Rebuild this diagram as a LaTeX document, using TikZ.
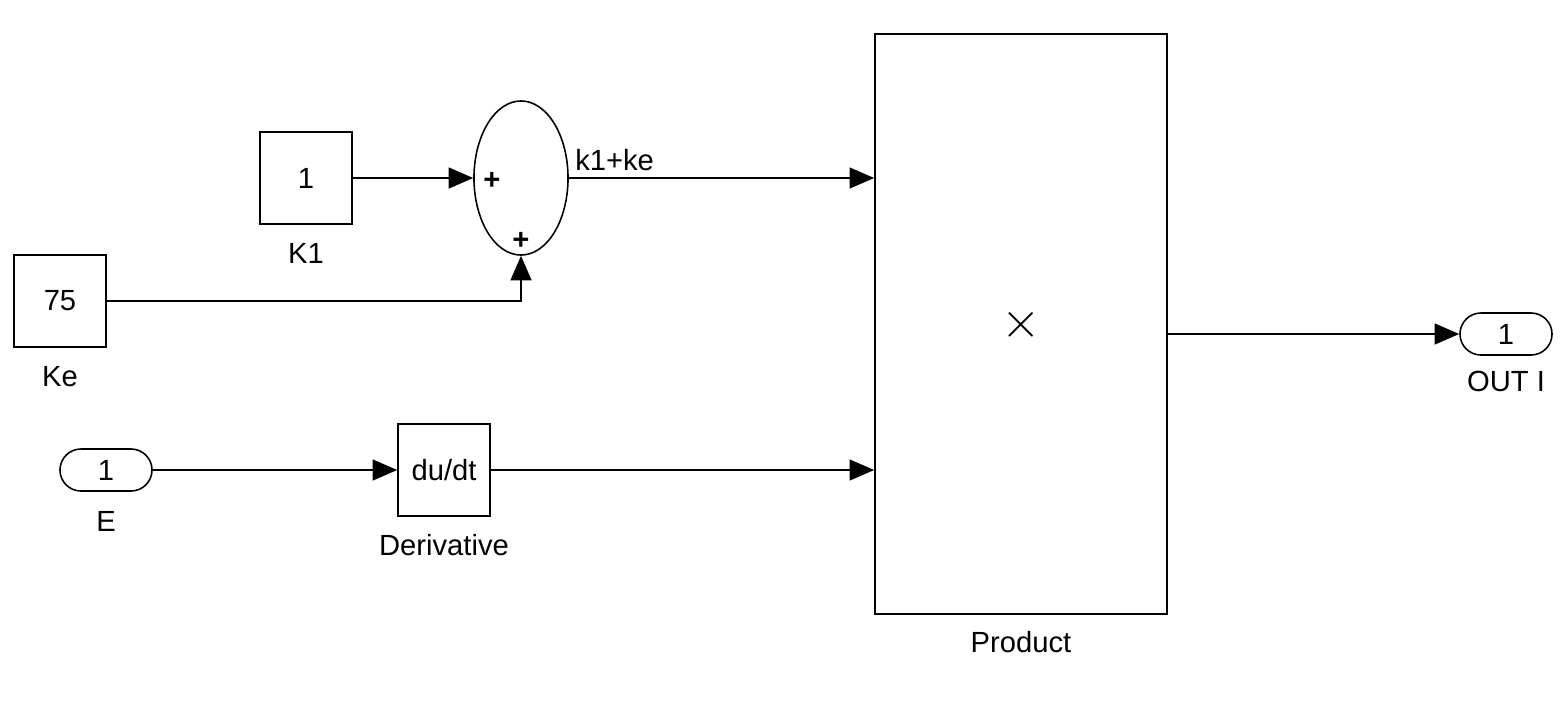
\documentclass[tikz,border=0pt]{standalone}
\usepackage{fontspec}
\setmainfont{Liberation Sans}
\usetikzlibrary{arrows.meta,shapes.geometric,shapes.misc}

\begin{document}
\begin{tikzpicture}[x=0.01cm,y=-0.01cm,
    >={Triangle[length=7pt,width=6pt]},
    every node/.style={font=\fontsize{8.3}{10}\selectfont},
    block/.style={rectangle,draw,line width=0.45pt,minimum size=0.92cm,inner sep=0pt},
    port/.style={rounded rectangle,draw,line width=0.45pt,minimum width=0.92cm,minimum height=0.42cm,inner sep=0pt},
    caption/.style={inner sep=0pt},
    signal/.style={->,line width=0.35pt}]
  \useasboundingbox (0,0) rectangle (1566,702);

  \node[block] (K1) at (306,178) {1};
  \node[caption] at (306,253) {K1};
  \node[block] (Ke) at (60,301) {75};
  \node[caption] at (60,377) {Ke};
  \node[ellipse,draw,line width=0.45pt,minimum width=0.94cm,minimum height=1.54cm,inner sep=0pt] (sum) at (521,178) {};
  \node[caption] at (492,181) {\textbf{+}};
  \node[caption] at (521,241) {\textbf{+}};
  \node[rectangle,draw,line width=0.45pt,minimum width=2.92cm,minimum height=5.8cm,inner sep=0pt] (prod) at (1021,324) {};
  \node[caption,font=\fontsize{14}{15}\selectfont] at (1021,325) {$\times$};
  \node[caption] at (1021,642) {Product};
  \node[port] (E) at (106,470) {1};
  \node[caption] at (106,521) {E};
  \node[block] (deriv) at (444,470) {du/dt};
  \node[caption] at (444,545) {Derivative};
  \node[port] (out) at (1506,334) {1};
  \node[caption] at (1506,381) {OUT I};

  \draw[signal] (K1.east) -- (sum.west |- K1.east);
  \draw[signal] (Ke.east) -| (sum.south);
  \draw[signal] (sum.east |- K1.east) -- node[above,pos=0.15,inner sep=2pt] {k1+ke} (prod.west |- K1.east);
  \draw[signal] (E.east) -- (deriv.west);
  \draw[signal] (deriv.east) -- (prod.west |- deriv.east);
  \draw[signal] (prod.east |- out.west) -- (out.west);
\end{tikzpicture}
\end{document}
